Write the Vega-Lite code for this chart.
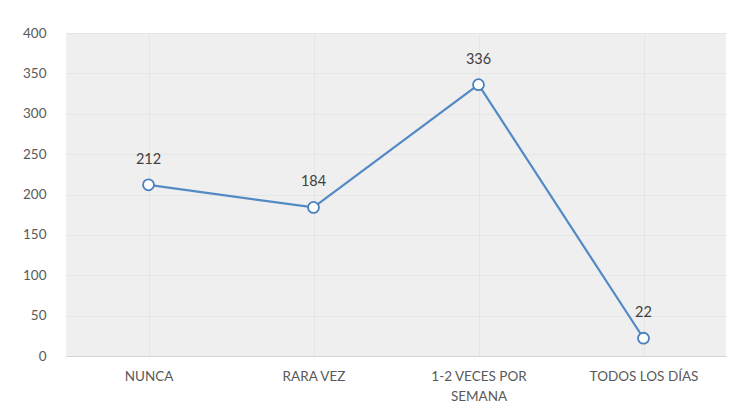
{
  "$schema": "https://vega.github.io/schema/vega-lite/v6.json",
  "width": 660,
  "height": 323,
  "autosize": {"type": "none"},
  "padding": {"left": 66, "top": 33, "right": 8, "bottom": 64},
  "background": "white",
  "config": {
    "view": {"fill": "#efefef", "stroke": null},
    "font": "Lato"
  },
  "data": {
    "values": [
      {"frecuencia": "NUNCA", "n": 212},
      {"frecuencia": "RARA VEZ", "n": 184},
      {"frecuencia": "1-2 VECES POR SEMANA", "n": 336},
      {"frecuencia": "TODOS LOS DÍAS", "n": 22}
    ]
  },
  "encoding": {
    "x": {
      "field": "frecuencia",
      "type": "nominal",
      "sort": null,
      "scale": {"paddingInner": 0, "paddingOuter": 0},
      "axis": {
        "title": null,
        "labelAngle": 0,
        "ticks": false,
        "domain": true,
        "domainColor": "#d4d4d4",
        "grid": true,
        "gridColor": "#e5e5e5",
        "labelColor": "#595959",
        "labelFontSize": 13.5,
        "labelPadding": 20,
        "labelBaseline": "middle",
        "labelLineHeight": 20,
        "labelExpr": "datum.label == '1-2 VECES POR SEMANA' ? ['1-2 VECES POR', 'SEMANA'] : datum.label"
      }
    },
    "y": {
      "field": "n",
      "type": "quantitative",
      "scale": {"domain": [0, 400]},
      "axis": {
        "title": null,
        "values": [0, 50, 100, 150, 200, 250, 300, 350, 400],
        "ticks": false,
        "domain": false,
        "grid": true,
        "gridColor": "#e6e6e6",
        "labelColor": "#595959",
        "labelFontSize": 13.5,
        "labelPadding": 20
      }
    }
  },
  "layer": [
    {
      "mark": {"type": "line", "color": "#5389c4", "strokeWidth": 2.2}
    },
    {
      "mark": {"type": "point", "filled": true, "fill": "white", "stroke": "#4a80bd", "strokeWidth": 1.8, "size": 120, "opacity": 1}
    },
    {
      "mark": {"type": "text", "dy": -25, "baseline": "middle", "fontSize": 14.5, "color": "#404040"},
      "encoding": {"text": {"field": "n", "type": "quantitative"}}
    }
  ]
}
